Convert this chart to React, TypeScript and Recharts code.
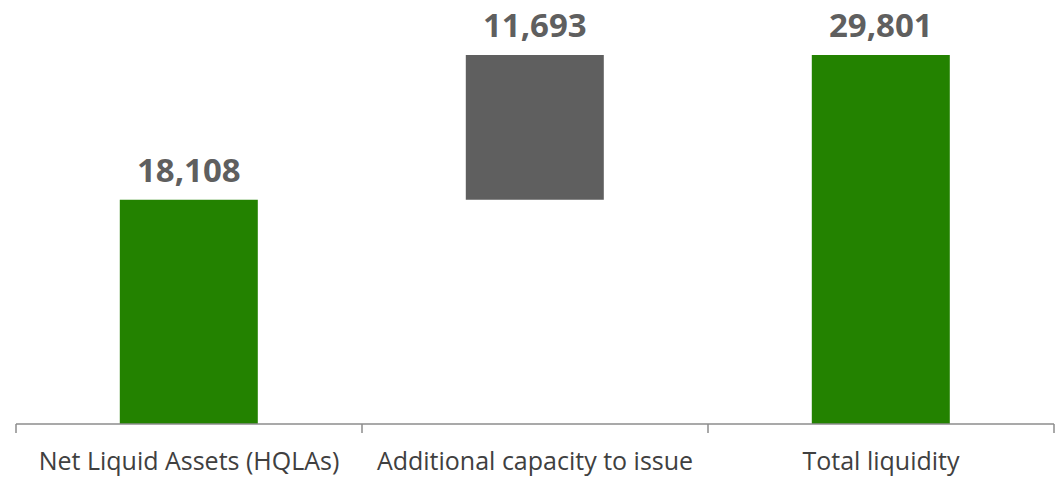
import { BarChart, Bar, XAxis, YAxis, Cell, LabelList } from 'recharts';

const categories = ['Net Liquid Assets (HQLAs)', 'Additional capacity to issue', 'Total liquidity'];
const baseValues = [0, 18108, 0];
const stepValues = [18108, 11693, 29801];
const barColors = ['#238200', '#5f5f5f', '#238200'];

const data = categories.map((name, i) => ({ name, base: baseValues[i], value: stepValues[i] }));

const fmt = (v: number) => v.toLocaleString('en-US');

const CategoryTick = (props: any) => {
  const { x, y, payload, index, width, visibleTicksCount } = props;
  const band = width / visibleTicksCount;
  const left = x - band / 2;
  const right = x + band / 2;
  return (
    <g>
      <line x1={left} y1={y - 8} x2={left} y2={y + 1} stroke="#8c8c8c" strokeWidth={1.5} />
      {index === visibleTicksCount - 1 && (
        <line x1={right} y1={y - 8} x2={right} y2={y + 1} stroke="#8c8c8c" strokeWidth={1.5} />
      )}
      <text x={x} y={y + 38} textAnchor="middle" fill="#404040" fontSize={25}>
        {payload.value}
      </text>
    </g>
  );
};

export default function App() {
  return (
    <div style={{ fontFamily: '"Open Sans", sans-serif' }}>
      <style>{'body{margin:0}'}</style>
      <BarChart
        width={1063}
        height={478}
        data={data}
        margin={{ top: 55, right: 9, bottom: 0, left: 16 }}
        barCategoryGap="30%"
      >
        <XAxis
          dataKey="name"
          axisLine={{ stroke: '#8c8c8c', strokeWidth: 1.5 }}
          tickLine={false}
          height={54}
          interval={0}
          tick={<CategoryTick />}
        />
        <YAxis hide domain={[0, 29801]} />
        <Bar dataKey="base" stackId="w" fill="transparent" isAnimationActive={false} />
        <Bar dataKey="value" stackId="w" isAnimationActive={false}>
          {data.map((_, i) => (
            <Cell key={i} fill={barColors[i]} />
          ))}
          <LabelList
            dataKey="value"
            position="top"
            offset={18}
            formatter={(v: any) => fmt(Number(v))}
            fill="#5f5f5f"
            fontSize={33}
            fontWeight="bold"
          />
        </Bar>
      </BarChart>
    </div>
  );
}
